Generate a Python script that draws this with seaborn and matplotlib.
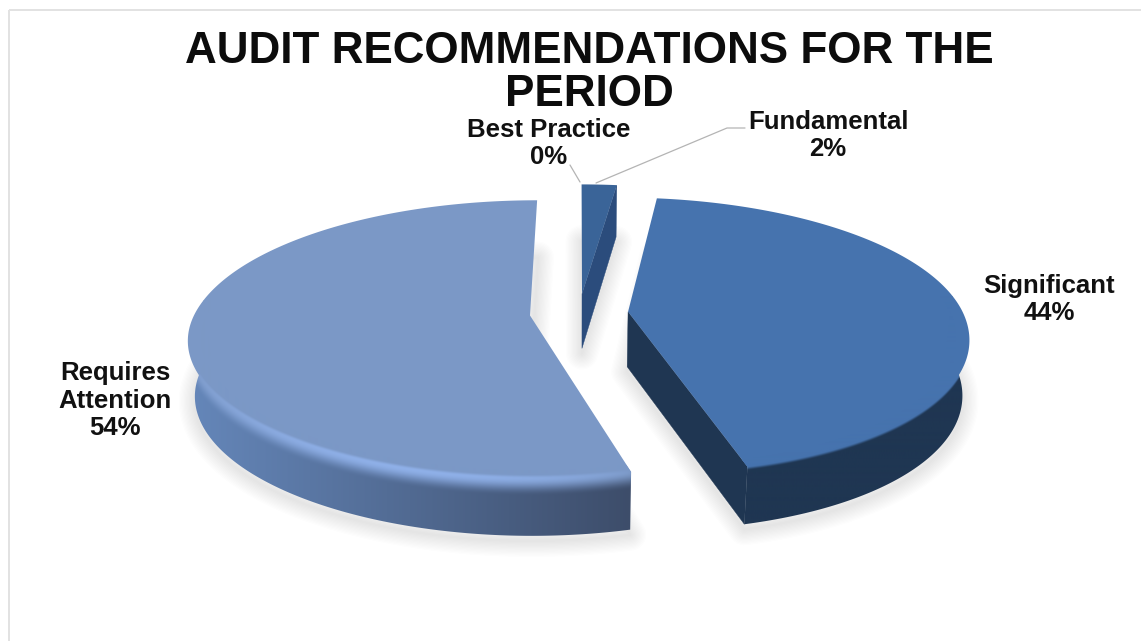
import numpy as np
import matplotlib
matplotlib.use("Agg")
import matplotlib.pyplot as plt
import matplotlib.colors as mcolors
from matplotlib.patches import Polygon, Rectangle
import seaborn as sns

# Share of audit recommendations by rating, clockwise from twelve o'clock
categories = ["Best Practice", "Fundamental", "Significant", "Requires Attention"]
percentages = [0, 2, 44, 54]

title_lines = ["AUDIT RECOMMENDATIONS FOR THE", "PERIOD"]
label_lines = {
    "Best Practice": ["Best Practice"],
    "Fundamental": ["Fundamental"],
    "Significant": ["Significant"],
    "Requires Attention": ["Requires", "Attention"],
}

# Canvas and projection of the tilted disc
W, H = 1141, 641
CX, CY = 579, 313
RX, RY = 335, 134
PERSPECTIVE = 0.17
EXPLODE = 0.147
DEPTH = 55
FRONT_SHIFT = 11

# Styling per slice
top_colors = {"Fundamental": "#3a6498", "Significant": "#4673ae", "Requires Attention": "#7b98c6"}
rim_colors = {"Fundamental": "#3a6498", "Significant": "#4673ae", "Requires Attention": "#8fb0e8"}
edge_colors = {"Fundamental": "#2b4c7c", "Significant": "#1f3652", "Requires Attention": "#3f4f6c"}
wall_left = {"Fundamental": "#2b4c7c", "Significant": "#1f3652", "Requires Attention": "#6587ba"}
wall_right = {"Fundamental": "#2b4c7c", "Significant": "#1f3652", "Requires Attention": "#3d4d6a"}
bevel_width = {"Fundamental": 0.05, "Significant": 0.07, "Requires Attention": 0.32}
label_anchor = {
    "Best Practice": (549, 130),
    "Fundamental": (828, 122),
    "Significant": (1049, 286),
    "Requires Attention": (115, 373),
}
leaders = {
    "Best Practice": [(570, 165), (580, 182)],
    "Fundamental": [(745, 128), (727, 128), (596, 183)],
}

sns.set_theme(style="white")
plt.rcParams["font.family"] = ["Liberation Sans", "DejaVu Sans"]

fig = plt.figure(figsize=(W / 100, H / 100), dpi=100, facecolor="white")
ax = fig.add_axes([0, 0, 1, 1])
ax.set_xlim(0, W)
ax.set_ylim(H, 0)
ax.axis("off")


def project(u, v, z=0.0):
    """Map disc coordinates plus a 0-1 drop through the slab onto the canvas."""
    w = 1 + PERSPECTIVE * v
    x = CX + RX * u / w + FRONT_SHIFT * np.clip(-v, 0, 1) ** 2
    y = CY - RY * v / w
    x = CX + (x - CX) * (1 - 0.018 * z)
    y = y + z * DEPTH * (1 - 0.05 * v)
    return x, y


def rgb(name):
    return np.asarray(mcolors.to_rgb(name))


def smooth(t):
    t = np.clip(t, 0, 1)
    return t * t * (3 - 2 * t)


def draw_outer_wall(name, ox, oy, theta):
    """Paint the curved wall and its rim as a pixel gradient clipped to the wall outline."""
    keep = np.cos(theta) + oy < oy + 0.12
    if keep.sum() < 2:
        return
    th = theta[keep]
    rim_u, rim_v = ox + np.sin(th), oy + np.cos(th)
    rim_x, rim_y = project(rim_u, rim_v)
    in_x, in_y = project(ox + 0.962 * np.sin(th), oy + 0.962 * np.cos(th))
    low_x, low_y = project(rim_u, rim_v, 1.0)

    outline = np.vstack([
        [rim_x[0], rim_y[0]],
        np.c_[in_x, in_y],
        [rim_x[-1], rim_y[-1]],
        np.c_[low_x[::-1], low_y[::-1]],
    ])

    # Upper edge as a function of x, using the part of the arc that runs one way in x
    lower_arc = np.cos(th) < -PERSPECTIVE
    order = np.argsort(rim_x[lower_arc])
    arc_x, arc_y = rim_x[lower_arc][order], rim_y[lower_arc][order]

    x0, x1 = outline[:, 0].min() - 2, outline[:, 0].max() + 2
    y0, y1 = outline[:, 1].min() - 2, outline[:, 1].max() + 2
    gx = np.arange(x0, x1, 0.5)
    gy = np.arange(y0, y1, 0.5)
    xx, yy = np.meshgrid(gx, gy)
    z = (yy - np.interp(xx, arc_x, arc_y)) / DEPTH

    span = (xx - arc_x[0]) / (arc_x[-1] - arc_x[0])
    shade = np.clip(span, 0, 1)[..., None]
    base = rgb(wall_left[name]) * (1 - shade) + rgb(wall_right[name]) * shade
    top = rgb(top_colors[name])
    # The highlight peaks along the front of the rim and fades towards both ends
    glow = (np.sin(np.pi * np.clip(span, 0, 1)) ** 0.6)[..., None]
    rim = top * (1 - glow) + rgb(rim_colors[name]) * glow

    lift = smooth((z + 0.07) / 0.07)[..., None]
    fall = smooth(z / bevel_width[name])[..., None]
    image = top * (1 - lift) + rim * lift
    image = image * (1 - fall) + base * fall

    im = ax.imshow(image, extent=(gx[0], gx[-1], gy[-1], gy[0]), aspect="auto",
                   interpolation="bilinear", zorder=5)
    im.set_clip_path(Polygon(outline, closed=True, transform=ax.transData))


ax.add_patch(Rectangle((9, 10), W, H, fill=False, ec="#e2e2e2", lw=1.4, zorder=0))

fractions = np.array(percentages) / sum(percentages)
starts = np.concatenate([[0], np.cumsum(fractions)[:-1]]) * 2 * np.pi
spans = fractions * 2 * np.pi

for name, start, span in zip(categories, starts, spans):
    if span == 0:
        continue
    mid = start + span / 2
    end = start + span
    ox, oy = EXPLODE * np.sin(mid), EXPLODE * np.cos(mid)
    theta = np.linspace(start, end, max(8, int(np.degrees(span) * 2)))
    arc_u, arc_v = ox + np.sin(theta), oy + np.cos(theta)

    # Outline of the slice, apex first
    outline_u = np.r_[ox, arc_u]
    outline_v = np.r_[oy, arc_v]

    # Soft shadow under the slab, built from stacked translucent strokes
    sx, sy = project(outline_u, outline_v, 1.0)
    for lw in np.arange(2, 34, 2.5):
        ax.add_patch(Polygon(np.c_[sx, sy + 5], closed=True, fill=False, ec="#6f6f6f",
                             lw=lw * 0.72, alpha=0.012, joinstyle="round", zorder=1))

    # Cut edges only show a wall where they face the viewer
    for angle, facing in ((start, np.sin(start) < -1e-6), (end, np.sin(end) > 1e-6)):
        if not facing:
            continue
        eu, ev = ox + np.sin(angle), oy + np.cos(angle)
        x0, y0 = project(np.array([ox, eu]), np.array([oy, ev]), 0.0)
        x1, y1 = project(np.array([ox, eu]), np.array([oy, ev]), 1.0)
        ax.fill(np.r_[x0, x1[::-1]], np.r_[y0, y1[::-1]], color=edge_colors[name], lw=0.3, zorder=2)

    # Top face, then the curved wall with its rim over the outer edge
    fx, fy = project(outline_u, outline_v)
    ax.fill(fx, fy, color=top_colors[name], lw=0, zorder=4)
    draw_outer_wall(name, ox, oy, theta)

ax.set_xlim(0, W)
ax.set_ylim(H, 0)

# Title
title_style = dict(ha="center", va="baseline", fontsize=31.7, fontweight="bold", color="#0c0c0c", zorder=8)
ax.text(589, 63, title_lines[0], **title_style)
ax.text(589, 106, title_lines[1], **title_style)

# Category labels and their leader lines
for name, value in zip(categories, percentages):
    lines = label_lines[name] + [f"{value}%"]
    anchor_x, anchor_y = label_anchor[name]
    for i, line in enumerate(lines):
        ax.text(anchor_x, anchor_y + i * 27.5, line, ha="center", va="center", fontsize=18.5,
                fontweight="bold", color="#111111", zorder=8)
    if name in leaders:
        lx, ly = zip(*leaders[name])
        ax.plot(lx, ly, color="#b4b4b4", lw=0.9, zorder=6)

fig.savefig("out.png", dpi=100, facecolor="white")
